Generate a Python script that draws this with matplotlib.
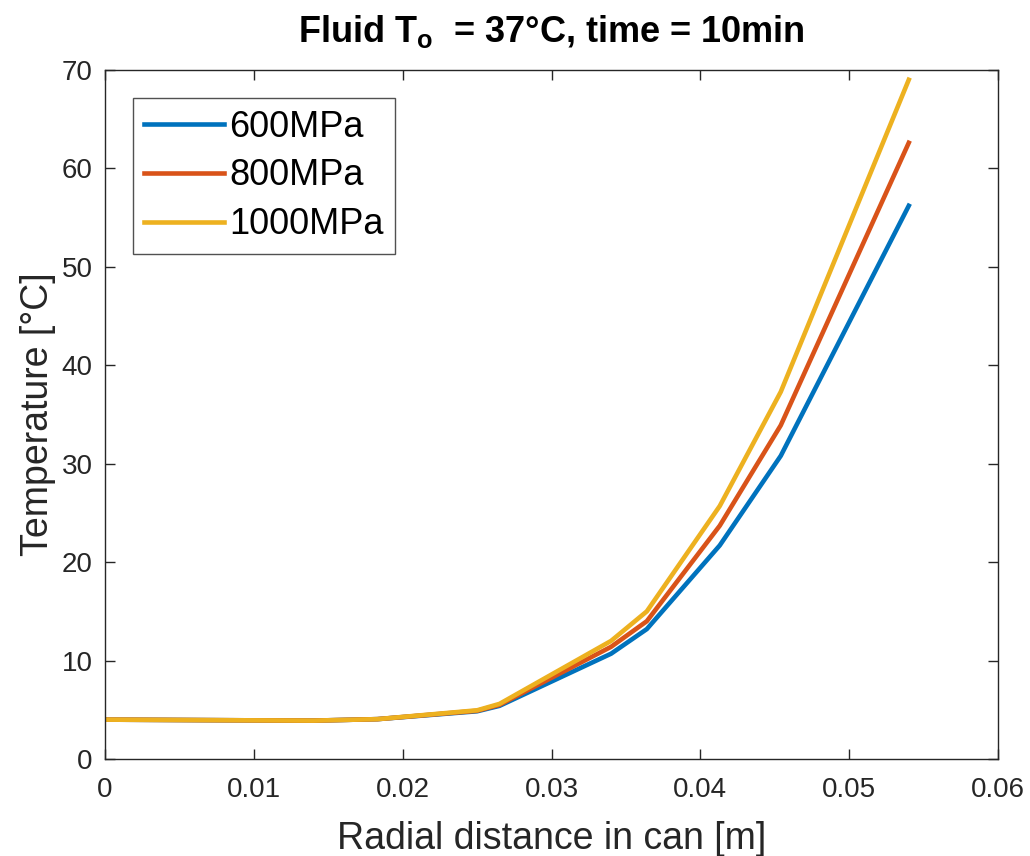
import numpy as np
import matplotlib
matplotlib.use("Agg")
import matplotlib.pyplot as plt

# ── Data ────────────────────────────────────────────────────
radius = [0.0, 0.007, 0.014, 0.0183, 0.025, 0.0265, 0.034, 0.0364, 0.0413, 0.0454, 0.054]
temp_600 = [4.0, 3.95, 3.9, 4.05, 4.85, 5.4, 10.7, 13.2, 21.7, 30.8, 56.2]
temp_800 = [4.0, 3.95, 3.9, 4.05, 4.9, 5.5, 11.4, 14.0, 23.7, 33.9, 62.6]
temp_1000 = [4.0, 3.95, 3.9, 4.05, 4.95, 5.6, 12.0, 15.0, 25.7, 37.3, 69.0]

labels = ["600MPa", "800MPa", "1000MPa"]
colors = ["#0072BD", "#D95319", "#EDB120"]

x_ticks = [0, 0.01, 0.02, 0.03, 0.04, 0.05, 0.06]
x_ticklabels = ["0", "0.01", "0.02", "0.03", "0.04", "0.05", "0.06"]
y_ticks = [0, 10, 20, 30, 40, 50, 60, 70]

# ── Style ───────────────────────────────────────────────────
plt.rcParams["font.family"] = ["Liberation Sans", "DejaVu Sans"]
plt.rcParams["mathtext.fontset"] = "custom"
plt.rcParams["mathtext.rm"] = "Liberation Sans"
plt.rcParams["mathtext.bf"] = "Liberation Sans:bold"

dark = "#262626"

fig = plt.figure(figsize=(10.3, 8.56), dpi=100)
ax = fig.add_axes([0.102, 0.1133, 0.867, 0.805])

for y, lab, c in zip([temp_600, temp_800, temp_1000], labels, colors):
    ax.plot(radius, y, color=c, lw=3.3, label=lab)

ax.set_xlim(0, 0.06)
ax.set_ylim(0, 70)
ax.set_xticks(x_ticks)
ax.set_xticklabels(x_ticklabels)
ax.set_yticks(y_ticks)

ax.tick_params(direction="in", length=7, width=1.0, colors=dark,
               labelsize=20, top=True, right=True)
ax.tick_params(axis="x", pad=13)
ax.tick_params(axis="y", pad=9)
for s in ax.spines.values():
    s.set_color(dark)
    s.set_linewidth(1.0)

ax.set_xlabel("Radial distance in can [m]", fontsize=27, color=dark, labelpad=13)
ax.set_ylabel("Temperature [°C]", fontsize=27, color=dark, labelpad=4)
ax.set_title(r"Fluid T$_\mathbf{o}$  = 37°C, time = 10min",
             fontsize=26, fontweight="bold", color="black", pad=20)

leg = ax.legend(loc="upper left", bbox_to_anchor=(0.031, 0.959), fontsize=26,
                frameon=True, fancybox=False, edgecolor=dark,
                handlelength=2.2, handletextpad=0.15, labelspacing=0.38,
                borderpad=0.32, borderaxespad=0)
leg.get_frame().set_linewidth(1.0)

fig.savefig("out.png", dpi=100)
